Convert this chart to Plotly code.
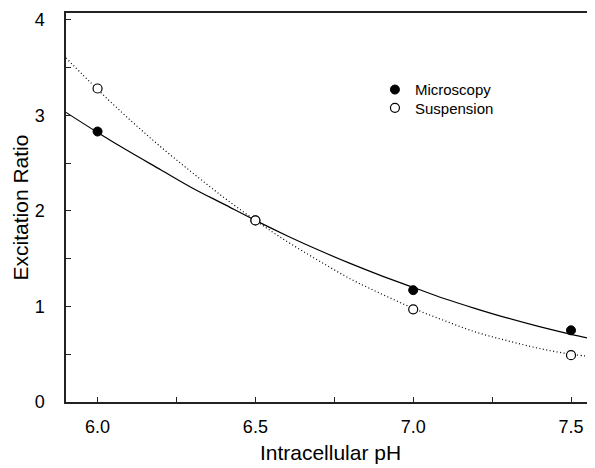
import plotly.graph_objects as go

# Measured data points
ph = [6.0, 6.5, 7.0, 7.5]
microscopy = [2.83, 1.90, 1.17, 0.75]
suspension = [3.28, 1.90, 0.97, 0.49]

# Fitted curves
curve_ph = [5.9, 6.0, 6.1, 6.2, 6.3, 6.4, 6.5, 6.6, 6.7, 6.8, 6.9, 7.0, 7.1, 7.2, 7.3, 7.4, 7.5, 7.58]
micro_fit = [3.03, 2.82, 2.62, 2.43, 2.24, 2.07, 1.90, 1.74, 1.59, 1.45, 1.32, 1.20, 1.08, 0.975, 0.877, 0.788, 0.708, 0.65]
susp_fit = [3.60, 3.27, 2.96, 2.67, 2.40, 2.14, 1.90, 1.68, 1.48, 1.29, 1.13, 0.98, 0.85, 0.73, 0.64, 0.56, 0.50, 0.47]

x_ticks = [6.0, 6.5, 7.0, 7.5]
x_tick_labels = ["6.0", "6.5", "7.0", "7.5"]
y_ticks = [0, 1, 2, 3, 4]

fig = go.Figure()
fig.add_trace(go.Scatter(x=curve_ph, y=micro_fit, mode="lines", line=dict(color="black", width=1.2, shape="spline"),
                         showlegend=False, hoverinfo="skip"))
fig.add_trace(go.Scatter(x=curve_ph, y=susp_fit, mode="lines", line=dict(color="black", width=1.2, dash="1px,2.5px", shape="spline"),
                         showlegend=False, hoverinfo="skip"))
fig.add_trace(go.Scatter(x=ph, y=microscopy, mode="markers", name="Microscopy", legend="legend",
                         marker=dict(symbol="circle", size=9, color="black", line=dict(color="black", width=1))))
fig.add_trace(go.Scatter(x=ph, y=suspension, mode="markers", name="Suspension", legend="legend2",
                         marker=dict(symbol="circle", size=9, color="white", line=dict(color="black", width=1.2))))

font_family = "Liberation Sans, Arial, sans-serif"
legend_style = dict(xanchor="left", yanchor="top", bgcolor="rgba(0,0,0,0)",
                    font=dict(size=15, family=font_family), itemwidth=30)
fig.update_layout(
    width=587, height=460,
    margin=dict(l=58, r=0, t=5, b=66),
    paper_bgcolor="white", plot_bgcolor="white",
    font=dict(family=font_family, color="black"),
    showlegend=True,
    legend=dict(x=0.584, y=0.845, **legend_style),
    legend2=dict(x=0.584, y=0.798, **legend_style),
    xaxis=dict(range=[5.9, 7.576], tickvals=x_ticks, ticktext=x_tick_labels,
               ticks="inside", ticklen=5, tickwidth=1, tickcolor="#222",
               minor=dict(dtick=0.25, tick0=6.0, ticks="inside", ticklen=5, tickwidth=1, tickcolor="#222"),
               showline=True, linecolor="#222", linewidth=2, mirror=True,
               showgrid=False, zeroline=False,
               tickfont=dict(size=18), ticklabelstandoff=7,
               title=dict(text="Intracellular pH", font=dict(size=21), standoff=10)),
    yaxis=dict(range=[0, 4.07], tickvals=y_ticks,
               ticks="inside", ticklen=5, tickwidth=1, tickcolor="#222",
               minor=dict(dtick=0.5, tick0=0, ticks="inside", ticklen=5, tickwidth=1, tickcolor="#222"),
               showline=True, linecolor="#222", linewidth=1.5, mirror=False,
               showgrid=False, zeroline=False,
               tickfont=dict(size=18), ticklabelstandoff=16,
               title=dict(text="Excitation Ratio", font=dict(size=21), standoff=0)),
)

fig.write_html("out.html")
